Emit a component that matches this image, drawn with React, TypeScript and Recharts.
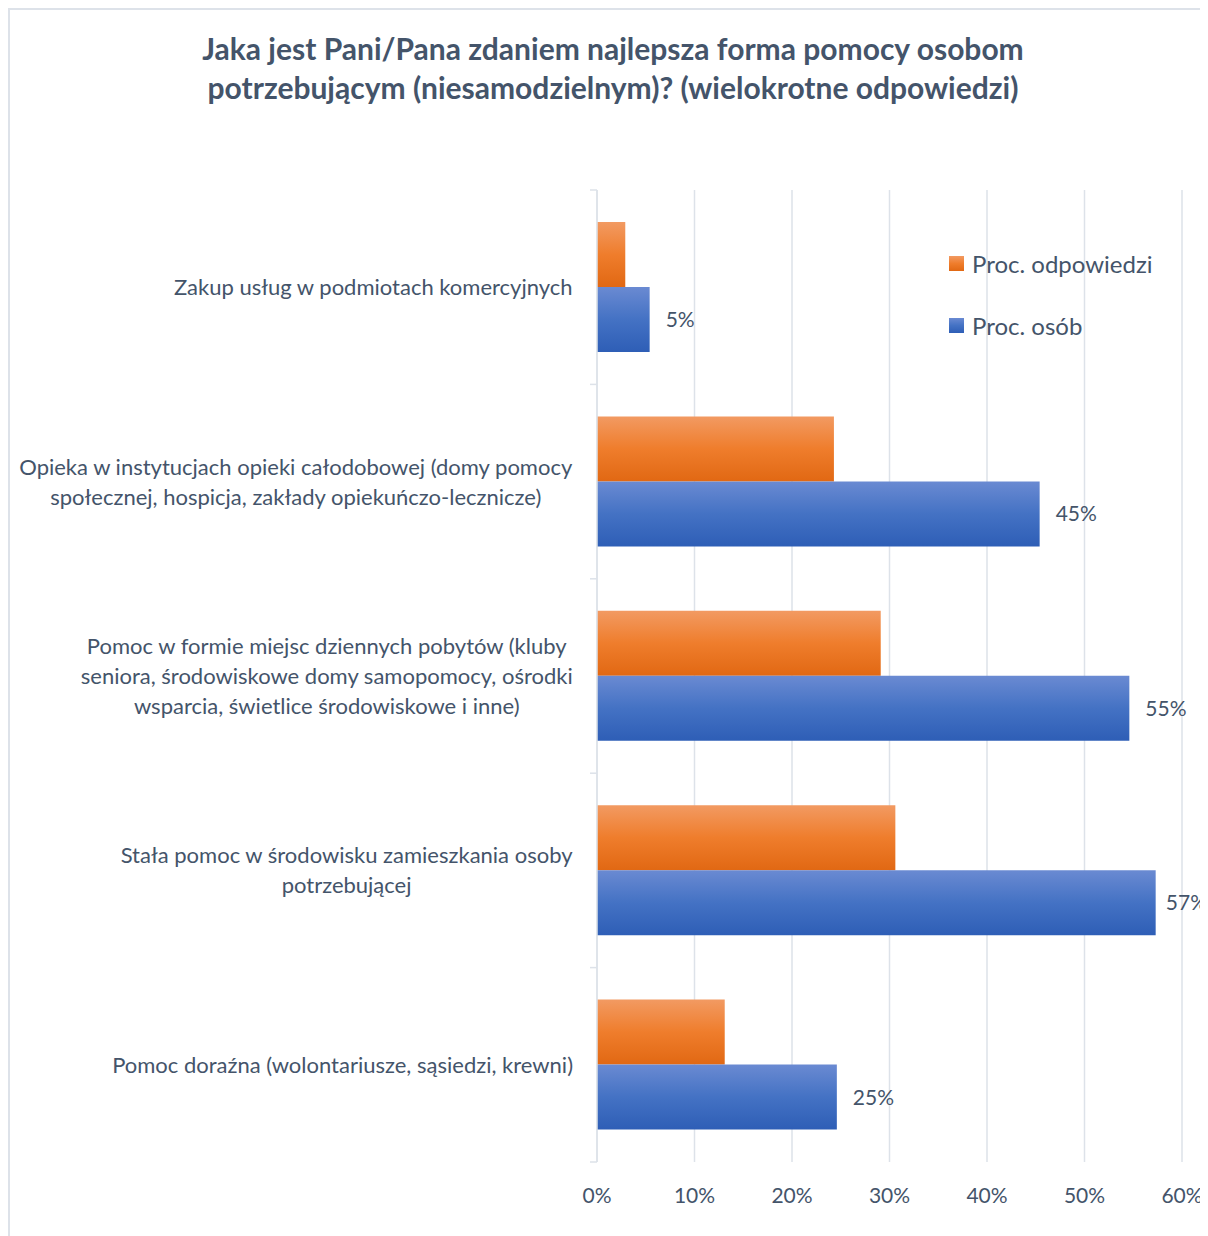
import { BarChart, Bar, XAxis, YAxis, CartesianGrid, LabelList, Legend } from 'recharts'

const CATEGORIES = [
  'Zakup usług w podmiotach komercyjnych',
  'Opieka w instytucjach opieki całodobowej (domy pomocy\nspołecznej, hospicja, zakłady opiekuńczo-lecznicze)',
  'Pomoc w formie miejsc dziennych pobytów (kluby\nseniora, środowiskowe domy samopomocy, ośrodki\nwsparcia, świetlice środowiskowe i inne)',
  'Stała pomoc w środowisku zamieszkania osoby\npotrzebującej',
  'Pomoc doraźna (wolontariusze, sąsiedzi, krewni)',
]
const PROC_ODPOWIEDZI = [2.9, 24.3, 29.1, 30.6, 13.1]
const PROC_OSOB = [5.4, 45.4, 54.6, 57.3, 24.6]
const X_TICKS = [0, 10, 20, 30, 40, 50, 60]
const SERIES = ['Proc. odpowiedzi', 'Proc. osób']
const TITLE = [
  'Jaka jest Pani/Pana zdaniem najlepsza forma pomocy osobom',
  'potrzebującym (niesamodzielnym)? (wielokrotne odpowiedzi)',
]

const data = CATEGORIES.map((name, i) => ({
  name,
  odp: PROC_ODPOWIEDZI[i],
  osob: PROC_OSOB[i],
}))

const W = 1200
const H = 1228
const TEXT = '#44546a'
const GRID = '#dde2e9'
const FONT = 'Lato, "Open Sans", sans-serif'
const LABEL_SIZE = 22
const VALUE_SIZE = 21
const LINE_H = 30
const TICK_MARGIN = 24

let ctx: CanvasRenderingContext2D | null = null
function measure(s: string, size = LABEL_SIZE) {
  if (!ctx) ctx = document.createElement('canvas').getContext('2d')
  if (!ctx) return s.length * size * 0.5
  ctx.font = `${size}px ${FONT}`
  return ctx.measureText(s).width
}

// category label: lines centred on each other, widest line flush to the axis,
// plus the little boundary tick marks Excel draws between categories
function CategoryTick(props: any) {
  const { x, y, payload, index, visibleTicksCount } = props
  const lines = String(payload.value).split('\n')
  const maxW = Math.max(...lines.map((l) => measure(l)))
  const cx = x - maxW / 2
  const half = payload.offset ?? 0
  const ax = x + TICK_MARGIN
  return (
    <g>
      <text textAnchor="middle" fill={TEXT} fontSize={LABEL_SIZE}>
        {lines.map((l, i) => (
          <tspan key={i} x={cx} y={y + (i - (lines.length - 1) / 2) * LINE_H} dy="0.36em">
            {l}
          </tspan>
        ))}
      </text>
      <line x1={ax - 7} x2={ax} y1={y - half} y2={y - half} stroke={GRID} strokeWidth={1.5} />
      {index === visibleTicksCount - 1 && (
        <line x1={ax - 7} x2={ax} y1={y + half} y2={y + half} stroke={GRID} strokeWidth={1.5} />
      )}
    </g>
  )
}

// value label right of the bar, kept inside the picture when it would spill over
function ValueLabel(props: any) {
  const { x, y, width, height, value } = props
  const s = `${Math.round(Number(value))}%`
  const tw = measure(s, VALUE_SIZE)
  const tx = Math.min(x + width + 16, W - tw - 1)
  return (
    <text x={tx} y={y + height / 2} dy="0.36em" fill={TEXT} fontSize={VALUE_SIZE}>
      {s}
    </text>
  )
}

const SWATCH: Record<string, string> = {
  odp: 'linear-gradient(#f29a62, #ef7d2c 50%, #e16813)',
  osob: 'linear-gradient(#6a8ad2, #4472c4 50%, #2e5eb6)',
}

function LegendContent({ payload }: any) {
  return (
    <div>
      {(payload || []).map((p: any) => (
        <div key={p.dataKey} style={{ display: 'flex', alignItems: 'center', height: 62 }}>
          <span style={{ width: 15, height: 15, background: SWATCH[p.dataKey], display: 'inline-block' }} />
          <span style={{ marginLeft: 8, fontSize: 24, color: TEXT }}>{p.value}</span>
        </div>
      ))}
    </div>
  )
}

export default function App() {
  return (
    <div style={{ position: 'relative', width: W, height: H, fontFamily: FONT, background: '#fff' }}>
      <div
        style={{
          position: 'absolute',
          left: 0,
          top: 0,
          width: 1210,
          textAlign: 'center',
          paddingTop: 21,
          fontSize: 30,
          fontWeight: 700,
          lineHeight: '39px',
          color: TEXT,
        }}
      >
        {TITLE[0]}
        <br />
        {TITLE[1]}
      </div>
      <BarChart
        width={W}
        height={H}
        data={data}
        layout="vertical"
        margin={{ top: 182, right: 26, bottom: 34, left: 0 }}
        barGap={0}
        barSize={65}
      >
        <defs>
          <linearGradient id="gOdp" x1="0" y1="0" x2="0" y2="1">
            <stop offset="0%" stopColor="#f29a62" />
            <stop offset="50%" stopColor="#ef7d2c" />
            <stop offset="100%" stopColor="#e16813" />
          </linearGradient>
          <linearGradient id="gOsob" x1="0" y1="0" x2="0" y2="1">
            <stop offset="0%" stopColor="#6a8ad2" />
            <stop offset="50%" stopColor="#4472c4" />
            <stop offset="100%" stopColor="#2e5eb6" />
          </linearGradient>
        </defs>
        <CartesianGrid horizontal={false} stroke={GRID} strokeWidth={1.5} />
        <XAxis
          type="number"
          domain={[0, 60]}
          ticks={X_TICKS}
          tickFormatter={(v) => `${v}%`}
          axisLine={false}
          tickLine={false}
          tickMargin={20}
          height={40}
          tick={{ fill: TEXT, fontSize: 21 }}
        />
        <YAxis
          type="category"
          dataKey="name"
          width={589}
          tickSize={0}
          tickMargin={TICK_MARGIN}
          tickLine={false}
          axisLine={{ stroke: GRID, strokeWidth: 1.5 }}
          tick={<CategoryTick />}
          interval={0}
        />
        <Legend
          layout="vertical"
          align="center"
          verticalAlign="middle"
          wrapperStyle={{ left: 941, top: 224, width: 260 }}
          content={<LegendContent />}
        />
        <Bar dataKey="odp" name={SERIES[0]} fill="url(#gOdp)" isAnimationActive={false} />
        <Bar dataKey="osob" name={SERIES[1]} fill="url(#gOsob)" isAnimationActive={false}>
          <LabelList dataKey="osob" content={<ValueLabel />} />
        </Bar>
      </BarChart>
      <div
        style={{
          position: 'absolute',
          left: 0,
          top: 0,
          width: W,
          height: H,
          borderLeft: `2px solid ${GRID}`,
          borderTop: `2px solid ${GRID}`,
          boxSizing: 'border-box',
          pointerEvents: 'none',
        }}
      />
    </div>
  )
}
